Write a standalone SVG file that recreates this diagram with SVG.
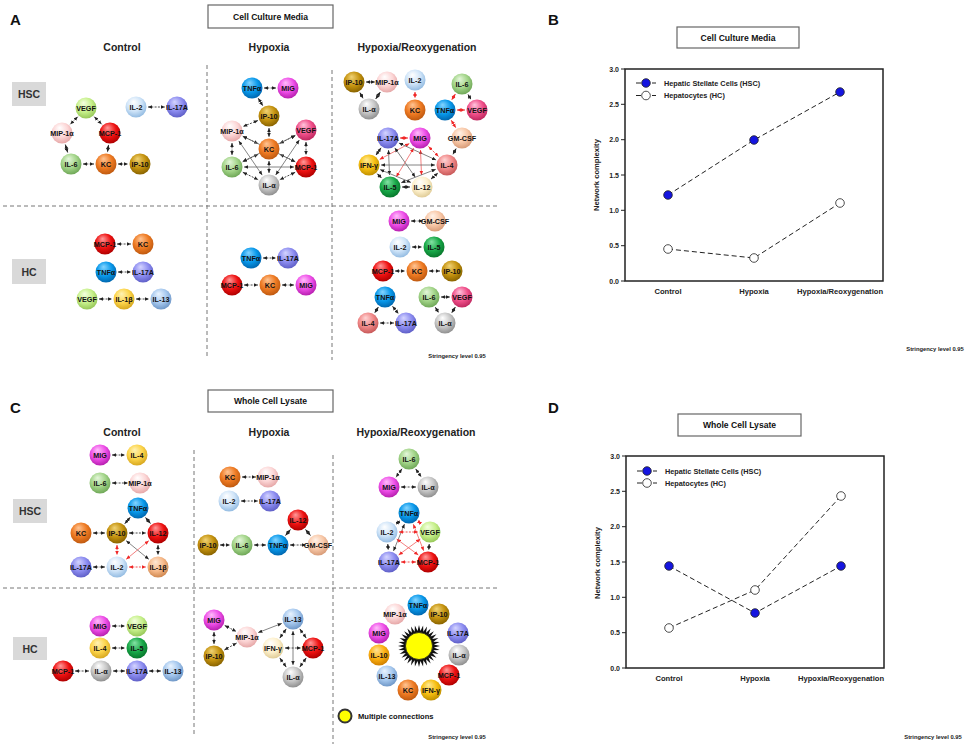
<svg xmlns="http://www.w3.org/2000/svg" width="970" height="748" viewBox="0 0 970 748">
<defs>
<marker id="ak" viewBox="0 0 6 6" refX="6" refY="3" markerWidth="4.2" markerHeight="4.2" markerUnits="userSpaceOnUse" orient="auto-start-reverse"><path d="M0,0.4 L6,3 L0,5.6 z" fill="#222"/></marker>
<marker id="ar" viewBox="0 0 6 6" refX="6" refY="3" markerWidth="4.2" markerHeight="4.2" markerUnits="userSpaceOnUse" orient="auto-start-reverse"><path d="M0,0.4 L6,3 L0,5.6 z" fill="#f02828"/></marker>
<radialGradient id="g-vegf" cx="0.45" cy="0.4" r="0.6" fx="0.38" fy="0.25"><stop offset="0" stop-color="#f4ffe0"/><stop offset="0.6" stop-color="#c6f08a"/><stop offset="1" stop-color="#98c85a"/></radialGradient>
<radialGradient id="g-vegfp" cx="0.45" cy="0.4" r="0.6" fx="0.38" fy="0.25"><stop offset="0" stop-color="#ffc4dc"/><stop offset="0.6" stop-color="#f0508a"/><stop offset="1" stop-color="#c02860"/></radialGradient>
<radialGradient id="g-mip" cx="0.45" cy="0.4" r="0.6" fx="0.38" fy="0.25"><stop offset="0" stop-color="#ffffff"/><stop offset="0.6" stop-color="#fcd6d6"/><stop offset="1" stop-color="#e6a8a8"/></radialGradient>
<radialGradient id="g-mcp" cx="0.45" cy="0.4" r="0.6" fx="0.38" fy="0.25"><stop offset="0" stop-color="#ff9a9a"/><stop offset="0.6" stop-color="#ee1111"/><stop offset="1" stop-color="#b00000"/></radialGradient>
<radialGradient id="g-il6" cx="0.45" cy="0.4" r="0.6" fx="0.38" fy="0.25"><stop offset="0" stop-color="#e4f6da"/><stop offset="0.6" stop-color="#a2d488"/><stop offset="1" stop-color="#70a858"/></radialGradient>
<radialGradient id="g-kc" cx="0.45" cy="0.4" r="0.6" fx="0.38" fy="0.25"><stop offset="0" stop-color="#ffc494"/><stop offset="0.6" stop-color="#ee7a22"/><stop offset="1" stop-color="#c05a10"/></radialGradient>
<radialGradient id="g-ip10" cx="0.45" cy="0.4" r="0.6" fx="0.38" fy="0.25"><stop offset="0" stop-color="#f0d274"/><stop offset="0.6" stop-color="#c4920e"/><stop offset="1" stop-color="#8a6400"/></radialGradient>
<radialGradient id="g-il2" cx="0.45" cy="0.4" r="0.6" fx="0.38" fy="0.25"><stop offset="0" stop-color="#ffffff"/><stop offset="0.6" stop-color="#cfe4f8"/><stop offset="1" stop-color="#94bce2"/></radialGradient>
<radialGradient id="g-il17" cx="0.45" cy="0.4" r="0.6" fx="0.38" fy="0.25"><stop offset="0" stop-color="#d4d4ff"/><stop offset="0.6" stop-color="#8c8cf0"/><stop offset="1" stop-color="#6060c8"/></radialGradient>
<radialGradient id="g-tnf" cx="0.45" cy="0.4" r="0.6" fx="0.38" fy="0.25"><stop offset="0" stop-color="#84d4ff"/><stop offset="0.6" stop-color="#0898ea"/><stop offset="1" stop-color="#0068b0"/></radialGradient>
<radialGradient id="g-mig" cx="0.45" cy="0.4" r="0.6" fx="0.38" fy="0.25"><stop offset="0" stop-color="#ffbcfa"/><stop offset="0.6" stop-color="#ee4ee8"/><stop offset="1" stop-color="#b820b0"/></radialGradient>
<radialGradient id="g-ila" cx="0.45" cy="0.4" r="0.6" fx="0.38" fy="0.25"><stop offset="0" stop-color="#ffffff"/><stop offset="0.6" stop-color="#c6c6c6"/><stop offset="1" stop-color="#909090"/></radialGradient>
<radialGradient id="g-gm" cx="0.45" cy="0.4" r="0.6" fx="0.38" fy="0.25"><stop offset="0" stop-color="#fff2e8"/><stop offset="0.6" stop-color="#f8c8a8"/><stop offset="1" stop-color="#d89c78"/></radialGradient>
<radialGradient id="g-ifn" cx="0.45" cy="0.4" r="0.6" fx="0.38" fy="0.25"><stop offset="0" stop-color="#ffea94"/><stop offset="0.6" stop-color="#f6be10"/><stop offset="1" stop-color="#c09000"/></radialGradient>
<radialGradient id="g-il4p" cx="0.45" cy="0.4" r="0.6" fx="0.38" fy="0.25"><stop offset="0" stop-color="#ffd4d4"/><stop offset="0.6" stop-color="#f08888"/><stop offset="1" stop-color="#c85a5a"/></radialGradient>
<radialGradient id="g-il4y" cx="0.45" cy="0.4" r="0.6" fx="0.38" fy="0.25"><stop offset="0" stop-color="#fff2b4"/><stop offset="0.6" stop-color="#fcd44a"/><stop offset="1" stop-color="#d8a820"/></radialGradient>
<radialGradient id="g-il5" cx="0.45" cy="0.4" r="0.6" fx="0.38" fy="0.25"><stop offset="0" stop-color="#84e2a4"/><stop offset="0.6" stop-color="#18a848"/><stop offset="1" stop-color="#08782c"/></radialGradient>
<radialGradient id="g-il12c" cx="0.45" cy="0.4" r="0.6" fx="0.38" fy="0.25"><stop offset="0" stop-color="#ffffff"/><stop offset="0.6" stop-color="#fdf0cc"/><stop offset="1" stop-color="#e0cc98"/></radialGradient>
<radialGradient id="g-il1bp" cx="0.45" cy="0.4" r="0.6" fx="0.38" fy="0.25"><stop offset="0" stop-color="#ffe8d4"/><stop offset="0.6" stop-color="#f6b98a"/><stop offset="1" stop-color="#d08850"/></radialGradient>
<radialGradient id="g-il13" cx="0.45" cy="0.4" r="0.6" fx="0.38" fy="0.25"><stop offset="0" stop-color="#eaf4ff"/><stop offset="0.6" stop-color="#a6c8ee"/><stop offset="1" stop-color="#7098c8"/></radialGradient>
<radialGradient id="g-il10" cx="0.45" cy="0.4" r="0.6" fx="0.38" fy="0.25"><stop offset="0" stop-color="#ffe294"/><stop offset="0.6" stop-color="#fdb010"/><stop offset="1" stop-color="#d08000"/></radialGradient>
</defs>
<style>
text{font-family:"Liberation Sans",Arial,sans-serif;font-weight:bold}
.n text{font-size:7.2px;text-anchor:middle;fill:#111}
.vegf{fill:url(#g-vegf)}.vegfp{fill:url(#g-vegfp)}.mip{fill:url(#g-mip)}.mcp{fill:url(#g-mcp)}.il6{fill:url(#g-il6)}.kc{fill:url(#g-kc)}.ip10{fill:url(#g-ip10)}.il2{fill:url(#g-il2)}.il17{fill:url(#g-il17)}.tnf{fill:url(#g-tnf)}.mig{fill:url(#g-mig)}.ila{fill:url(#g-ila)}.gm{fill:url(#g-gm)}.ifn{fill:url(#g-ifn)}.il4p{fill:url(#g-il4p)}.il4y{fill:url(#g-il4y)}.il5{fill:url(#g-il5)}.il12c{fill:url(#g-il12c)}.il1bp{fill:url(#g-il1bp)}.il13{fill:url(#g-il13)}.il10{fill:url(#g-il10)}
.e{stroke:#333;stroke-width:0.9;stroke-dasharray:2 1.3;fill:none;marker-start:url(#ak);marker-end:url(#ak)}
.el{stroke:#666;stroke-width:0.8;fill:none;marker-start:url(#ak);marker-end:url(#ak)}
.r{stroke:#f03a3a;stroke-width:0.9;stroke-dasharray:2 1.3;fill:none;marker-start:url(#ar);marker-end:url(#ar)}
.rl{stroke:#f06060;stroke-width:0.8;fill:none;marker-start:url(#ar);marker-end:url(#ar)}
.sep{stroke:#777;stroke-width:1;stroke-dasharray:4 3;fill:none}
.plabel{font-size:15px;fill:#111}
.col{font-size:10.5px;text-anchor:middle;fill:#222}
.tbox{fill:#fff;stroke:#666;stroke-width:1.2}
.ttext{font-size:8.6px;text-anchor:middle;fill:#111}
.gbox{fill:#d9d9d9}
.gtext{font-size:10.5px;text-anchor:middle;fill:#333}
.str{font-size:5.8px;text-anchor:middle;fill:#222}
.frame{fill:none;stroke:#222;stroke-width:1.5}
.tick{stroke:#222;stroke-width:1}
.tl{font-size:7px;text-anchor:end;fill:#222}
.xl{font-size:7.6px;text-anchor:middle;fill:#222}
.lg{font-size:7.3px;fill:#222}
.data{fill:none;stroke:#222;stroke-width:1;stroke-dasharray:5 3}
.hsc{fill:#1515e0;stroke:#222;stroke-width:0.8}
.hc{fill:#fff;stroke:#222;stroke-width:0.8}
</style>
<rect width="970" height="748" fill="#fff"/>

<!-- ================= PANEL A ================= -->
<g id="panelA-frame">
<text class="plabel" x="10" y="25">A</text>
<rect class="tbox" x="208" y="5" width="125" height="23"/>
<text class="ttext" x="270.5" y="19.5">Cell Culture Media</text>
<text class="col" x="122" y="51">Control</text>
<text class="col" x="269" y="51">Hypoxia</text>
<text class="col" x="417" y="51">Hypoxia/Reoxygenation</text>
<rect class="gbox" x="12" y="82" width="34" height="24"/>
<text class="gtext" x="29" y="98">HSC</text>
<rect class="gbox" x="12" y="259" width="34" height="25"/>
<text class="gtext" x="29" y="275.5">HC</text>
<line class="sep" x1="207" y1="65" x2="207" y2="357"/>
<line class="sep" x1="332" y1="70" x2="332" y2="360"/>
<line class="sep" x1="3" y1="206" x2="498" y2="206"/>
<text class="str" x="457" y="358">Stringency level 0.95</text>
</g>

<g id="connectors">
<!-- A HSC Control -->
<line class="e" x1="77.7" y1="116.7" x2="70.3" y2="124.3"/>
<line class="e" x1="94.3" y1="116.7" x2="101.7" y2="124.3"/>
<line class="e" x1="65.3" y1="144.5" x2="67.7" y2="152.5"/>
<line class="e" x1="108.5" y1="144.9" x2="107.5" y2="152.1"/>
<line class="e" x1="83" y1="164" x2="94" y2="164"/>
<line class="e" x1="118" y1="164" x2="128" y2="164"/>
<line class="e" x1="148" y1="107" x2="165" y2="107"/>
<!-- A HSC Hypoxia -->
<line class="e" x1="264" y1="88" x2="276" y2="88"/>
<line class="e" x1="258.2" y1="98.2" x2="262.8" y2="105.8"/>
<line class="e" x1="257.9" y1="120.5" x2="243.1" y2="126.5"/>
<line class="e" x1="269" y1="128" x2="269" y2="137"/>
<line class="e" x1="242.8" y1="136.3" x2="258.2" y2="143.7"/>
<line class="e" x1="295.3" y1="135.5" x2="279.7" y2="143.5"/>
<line class="e" x1="232" y1="143" x2="232" y2="155"/>
<line class="e" x1="306" y1="142" x2="306" y2="155"/>
<line class="e" x1="258.2" y1="154.3" x2="242.8" y2="161.7"/>
<line class="e" x1="279.8" y1="154.3" x2="295.2" y2="161.7"/>
<line class="e" x1="269" y1="161" x2="269" y2="173"/>
<line class="el" x1="244" y1="167" x2="294" y2="167"/>
<line class="e" x1="242.8" y1="172.3" x2="258.2" y2="179.7"/>
<line class="e" x1="295.2" y1="172.3" x2="279.8" y2="179.7"/>
<line class="el" x1="238.8" y1="140.9" x2="262.2" y2="175.1"/>
<line class="el" x1="299.3" y1="140" x2="275.7" y2="175"/>
<line class="el" x1="242.8" y1="136.2" x2="295.2" y2="161.8"/>
<line class="el" x1="242.7" y1="161.6" x2="295.3" y2="135.4"/>
<!-- A HSC H/R -->
<line class="e" x1="366" y1="82" x2="375" y2="82"/>
<line class="e" x1="359.8" y1="92.5" x2="363.2" y2="98.5"/>
<line class="e" x1="380.3" y1="92" x2="375.7" y2="99"/>
<line class="r" x1="415" y1="92" x2="415" y2="98"/>
<line class="r" x1="455.4" y1="94" x2="451.6" y2="100"/>
<line class="e" x1="468" y1="94.4" x2="471" y2="99.6"/>
<line class="r" x1="457" y1="110" x2="465" y2="110"/>
<line class="r" x1="451.2" y1="120.2" x2="455.8" y2="127.8"/>
<line class="e" x1="456.2" y1="148.5" x2="452.8" y2="154.5"/>
<line class="r" x1="400" y1="138" x2="408" y2="138"/>
<line class="r" x1="428.5" y1="146.5" x2="438.5" y2="156.5"/>
<line class="rl" x1="409.4" y1="143.6" x2="379.6" y2="159.4"/>
<line class="rl" x1="413.7" y1="148.2" x2="396.3" y2="176.8"/>
<line class="rl" x1="420.5" y1="150" x2="421.5" y2="175"/>
<line class="e" x1="381.1" y1="147.8" x2="375.9" y2="155.2"/>
<line class="el" x1="388.5" y1="150" x2="389.5" y2="175"/>
<line class="el" x1="394.8" y1="147.9" x2="415.2" y2="177.1"/>
<line class="el" x1="398.9" y1="143" x2="436.1" y2="160"/>
<line class="el" x1="381" y1="165" x2="435" y2="165"/>
<line class="e" x1="377.3" y1="173.7" x2="381.7" y2="178.3"/>
<line class="el" x1="380.1" y1="169.6" x2="410.9" y2="182.4"/>
<line class="e" x1="402" y1="187" x2="410" y2="187"/>
<line class="el" x1="401.2" y1="182.7" x2="435.8" y2="169.3"/>
<line class="e" x1="431" y1="179.1" x2="438" y2="172.9"/>
<!-- A HC Control -->
<line class="e" x1="117" y1="244" x2="131" y2="244"/>
<line class="e" x1="118" y1="272" x2="131" y2="272"/>
<line class="e" x1="99" y1="299" x2="112" y2="299"/>
<line class="e" x1="136" y1="299" x2="149" y2="299"/>
<!-- A HC Hypoxia -->
<line class="e" x1="263" y1="258" x2="276" y2="258"/>
<line class="e" x1="244" y1="285" x2="258" y2="285"/>
<line class="e" x1="282" y1="285" x2="294" y2="285"/>
<!-- A HC H/R -->
<line class="e" x1="411" y1="221" x2="423" y2="221"/>
<line class="e" x1="412" y1="247" x2="422" y2="247"/>
<line class="e" x1="395" y1="271" x2="405" y2="271"/>
<line class="e" x1="429" y1="271" x2="440" y2="271"/>
<line class="e" x1="378.4" y1="307" x2="374.6" y2="313"/>
<line class="e" x1="392.5" y1="306.3" x2="398.5" y2="313.7"/>
<line class="e" x1="380" y1="323" x2="394" y2="323"/>
<line class="e" x1="441" y1="297" x2="450" y2="297"/>
<line class="e" x1="435.3" y1="307.2" x2="438.7" y2="312.8"/>
<line class="e" x1="455.4" y1="307" x2="451.6" y2="313"/>
<!-- C HSC Control -->
<line class="e" x1="112" y1="455" x2="125" y2="455"/>
<line class="e" x1="112" y1="483" x2="128" y2="483"/>
<line class="e" x1="130.3" y1="517.2" x2="124.7" y2="523.8"/>
<line class="e" x1="145.5" y1="517.4" x2="150.5" y2="523.6"/>
<line class="e" x1="93" y1="533" x2="105" y2="533"/>
<line class="e" x1="129" y1="533" x2="146" y2="533"/>
<line class="r" x1="117" y1="545" x2="117" y2="555"/>
<line class="el" x1="126.2" y1="540.7" x2="148.8" y2="559.3"/>
<line class="e" x1="158" y1="545" x2="158" y2="555"/>
<line class="rl" x1="148.8" y1="540.7" x2="126.2" y2="559.3"/>
<line class="e" x1="93" y1="567" x2="105" y2="567"/>
<line class="r" x1="129" y1="567" x2="146" y2="567"/>
<!-- C HSC Hypoxia -->
<line class="e" x1="242" y1="477" x2="256" y2="477"/>
<line class="e" x1="241" y1="501" x2="258" y2="501"/>
<line class="e" x1="220" y1="545" x2="230" y2="545"/>
<line class="e" x1="254" y1="545" x2="266" y2="545"/>
<line class="e" x1="290" y1="545" x2="306" y2="545"/>
<line class="e" x1="285.5" y1="535.6" x2="290.5" y2="529.4"/>
<line class="e" x1="305.5" y1="529.4" x2="310.5" y2="535.6"/>
<!-- C HSC H/R -->
<line class="e" x1="402" y1="468.8" x2="396" y2="477.2"/>
<line class="e" x1="415.7" y1="468.9" x2="421.3" y2="477.1"/>
<line class="e" x1="401" y1="487" x2="416" y2="487"/>
<line class="e" x1="399.9" y1="520.8" x2="396.1" y2="524.2"/>
<line class="r" x1="417.9" y1="521.1" x2="421.1" y2="523.9"/>
<line class="e" x1="387.8" y1="544" x2="388.2" y2="550"/>
<line class="e" x1="429.2" y1="544" x2="428.8" y2="550"/>
<line class="r" x1="401" y1="562" x2="416" y2="562"/>
<line class="el" x1="404.5" y1="524.1" x2="393.5" y2="550.9"/>
<line class="rl" x1="413.3" y1="524.2" x2="423.7" y2="550.8"/>
<line class="r" x1="399" y1="532" x2="418" y2="532"/>
<line class="rl" x1="396.7" y1="539.1" x2="418.3" y2="554.9"/>
<line class="rl" x1="420.3" y1="539.1" x2="398.7" y2="554.9"/>
<!-- C HC Control -->
<line class="e" x1="112" y1="626" x2="125" y2="626"/>
<line class="e" x1="112" y1="648" x2="125" y2="648"/>
<line class="e" x1="75" y1="671" x2="89" y2="671"/>
<line class="e" x1="113" y1="671" x2="125" y2="671"/>
<line class="e" x1="149" y1="671" x2="161" y2="671"/>
<!-- C HC Hypoxia -->
<line class="e" x1="214" y1="632" x2="214" y2="644"/>
<line class="e" x1="224.7" y1="625.5" x2="236.3" y2="631.5"/>
<line class="e" x1="224.4" y1="650" x2="236.6" y2="643"/>
<line class="el" x1="258.2" y1="632.6" x2="281.8" y2="623.4"/>
<line class="e" x1="286.2" y1="628.9" x2="279.8" y2="638.1"/>
<line class="e" x1="299.8" y1="628.9" x2="306.2" y2="638.1"/>
<line class="el" x1="293" y1="631" x2="293" y2="665"/>
<line class="e" x1="285" y1="648" x2="301" y2="648"/>
<line class="e" x1="279.8" y1="657.9" x2="286.2" y2="667.1"/>
<line class="e" x1="306.2" y1="657.9" x2="299.8" y2="667.1"/>
</g>

<!-- A HSC Control nodes -->
<g id="a-hsc-c-vegf" class="n"><circle class="vegf" cx="86" cy="108" r="10.5"/><text x="86" y="110.5">VEGF</text></g>
<g id="a-hsc-c-mip" class="n"><circle class="mip" cx="62" cy="133" r="10.5"/><text x="62" y="135.5">MIP-1α</text></g>
<g id="a-hsc-c-mcp" class="n"><circle class="mcp" cx="110" cy="133" r="10.5"/><text x="110" y="135.5">MCP-1</text></g>
<g id="a-hsc-c-il6" class="n"><circle class="il6" cx="71" cy="164" r="10.5"/><text x="71" y="166.5">IL-6</text></g>
<g id="a-hsc-c-kc" class="n"><circle class="kc" cx="106" cy="164" r="10.5"/><text x="106" y="166.5">KC</text></g>
<g id="a-hsc-c-ip10" class="n"><circle class="ip10" cx="140" cy="164" r="10.5"/><text x="140" y="166.5">IP-10</text></g>
<g id="a-hsc-c-il2" class="n"><circle class="il2" cx="136" cy="107" r="10.5"/><text x="136" y="109.5">IL-2</text></g>
<g id="a-hsc-c-il17a" class="n"><circle class="il17" cx="177" cy="107" r="10.5"/><text x="177" y="109.5">IL-17A</text></g>

<!-- A HSC Hypoxia nodes -->
<g id="a-hsc-h-tnf" class="n"><circle class="tnf" cx="252" cy="88" r="10.5"/><text x="252" y="90.5">TNFα</text></g>
<g id="a-hsc-h-mig" class="n"><circle class="mig" cx="288" cy="88" r="10.5"/><text x="288" y="90.5">MIG</text></g>
<g id="a-hsc-h-ip10" class="n"><circle class="ip10" cx="269" cy="116" r="10.5"/><text x="269" y="118.5">IP-10</text></g>
<g id="a-hsc-h-mip" class="n"><circle class="mip" cx="232" cy="131" r="10.5"/><text x="232" y="133.5">MIP-1α</text></g>
<g id="a-hsc-h-vegf" class="n"><circle class="vegfp" cx="306" cy="130" r="10.5"/><text x="306" y="132.5">VEGF</text></g>
<g id="a-hsc-h-kc" class="n"><circle class="kc" cx="269" cy="149" r="10.5"/><text x="269" y="151.5">KC</text></g>
<g id="a-hsc-h-il6" class="n"><circle class="il6" cx="232" cy="167" r="10.5"/><text x="232" y="169.5">IL-6</text></g>
<g id="a-hsc-h-mcp" class="n"><circle class="mcp" cx="306" cy="167" r="10.5"/><text x="306" y="169.5">MCP-1</text></g>
<g id="a-hsc-h-ila" class="n"><circle class="ila" cx="269" cy="185" r="10.5"/><text x="269" y="187.5">IL-α</text></g>

<!-- A HSC H/R nodes -->
<g id="a-hsc-r-ip10" class="n"><circle class="ip10" cx="354" cy="82" r="10.5"/><text x="354" y="84.5">IP-10</text></g>
<g id="a-hsc-r-mip" class="n"><circle class="mip" cx="387" cy="82" r="10.5"/><text x="387" y="84.5">MIP-1α</text></g>
<g id="a-hsc-r-ila" class="n"><circle class="ila" cx="369" cy="109" r="10.5"/><text x="369" y="111.5">IL-α</text></g>
<g id="a-hsc-r-il2" class="n"><circle class="il2" cx="415" cy="80" r="10.5"/><text x="415" y="82.5">IL-2</text></g>
<g id="a-hsc-r-kc" class="n"><circle class="kc" cx="415" cy="110" r="10.5"/><text x="415" y="112.5">KC</text></g>
<g id="a-hsc-r-il6" class="n"><circle class="il6" cx="462" cy="84" r="10.5"/><text x="462" y="86.5">IL-6</text></g>
<g id="a-hsc-r-tnf" class="n"><circle class="tnf" cx="445" cy="110" r="10.5"/><text x="445" y="112.5">TNFα</text></g>
<g id="a-hsc-r-vegf" class="n"><circle class="vegfp" cx="477" cy="110" r="10.5"/><text x="477" y="112.5">VEGF</text></g>
<g id="a-hsc-r-gm" class="n"><circle class="gm" cx="462" cy="138" r="10.5"/><text x="462" y="140.5">GM-CSF</text></g>
<g id="a-hsc-r-il17a" class="n"><circle class="il17" cx="388" cy="138" r="10.5"/><text x="388" y="140.5">IL-17A</text></g>
<g id="a-hsc-r-mig" class="n"><circle class="mig" cx="420" cy="138" r="10.5"/><text x="420" y="140.5">MIG</text></g>
<g id="a-hsc-r-ifn" class="n"><circle class="ifn" cx="369" cy="165" r="10.5"/><text x="369" y="167.5">IFN-γ</text></g>
<g id="a-hsc-r-il4" class="n"><circle class="il4p" cx="447" cy="165" r="10.5"/><text x="447" y="167.5">IL-4</text></g>
<g id="a-hsc-r-il5" class="n"><circle class="il5" cx="390" cy="187" r="10.5"/><text x="390" y="189.5">IL-5</text></g>
<g id="a-hsc-r-il12" class="n"><circle class="il12c" cx="422" cy="187" r="10.5"/><text x="422" y="189.5">IL-12</text></g>

<!-- A HC Control nodes -->
<g id="a-hc-c-mcp" class="n"><circle class="mcp" cx="105" cy="244" r="10.5"/><text x="105" y="246.5">MCP-1</text></g>
<g id="a-hc-c-kc" class="n"><circle class="kc" cx="143" cy="244" r="10.5"/><text x="143" y="246.5">KC</text></g>
<g id="a-hc-c-tnf" class="n"><circle class="tnf" cx="106" cy="272" r="10.5"/><text x="106" y="274.5">TNFα</text></g>
<g id="a-hc-c-il17a" class="n"><circle class="il17" cx="143" cy="272" r="10.5"/><text x="143" y="274.5">IL-17A</text></g>
<g id="a-hc-c-vegf" class="n"><circle class="vegf" cx="87" cy="299" r="10.5"/><text x="87" y="301.5">VEGF</text></g>
<g id="a-hc-c-il1b" class="n"><circle class="il4y" cx="124" cy="299" r="10.5"/><text x="124" y="301.5">IL-1β</text></g>
<g id="a-hc-c-il13" class="n"><circle class="il13" cx="161" cy="299" r="10.5"/><text x="161" y="301.5">IL-13</text></g>

<!-- A HC Hypoxia nodes -->
<g id="a-hc-h-tnf" class="n"><circle class="tnf" cx="251" cy="258" r="10.5"/><text x="251" y="260.5">TNFα</text></g>
<g id="a-hc-h-il17a" class="n"><circle class="il17" cx="288" cy="258" r="10.5"/><text x="288" y="260.5">IL-17A</text></g>
<g id="a-hc-h-mcp" class="n"><circle class="mcp" cx="232" cy="285" r="10.5"/><text x="232" y="287.5">MCP-1</text></g>
<g id="a-hc-h-kc" class="n"><circle class="kc" cx="270" cy="285" r="10.5"/><text x="270" y="287.5">KC</text></g>
<g id="a-hc-h-mig" class="n"><circle class="mig" cx="306" cy="285" r="10.5"/><text x="306" y="287.5">MIG</text></g>

<!-- A HC H/R nodes -->
<g id="a-hc-r-mig" class="n"><circle class="mig" cx="399" cy="221" r="10.5"/><text x="399" y="223.5">MIG</text></g>
<g id="a-hc-r-gm" class="n"><circle class="gm" cx="435" cy="221" r="10.5"/><text x="435" y="223.5">GM-CSF</text></g>
<g id="a-hc-r-il2" class="n"><circle class="il2" cx="400" cy="247" r="10.5"/><text x="400" y="249.5">IL-2</text></g>
<g id="a-hc-r-il5" class="n"><circle class="il5" cx="434" cy="247" r="10.5"/><text x="434" y="249.5">IL-5</text></g>
<g id="a-hc-r-mcp" class="n"><circle class="mcp" cx="383" cy="271" r="10.5"/><text x="383" y="273.5">MCP-1</text></g>
<g id="a-hc-r-kc" class="n"><circle class="kc" cx="417" cy="271" r="10.5"/><text x="417" y="273.5">KC</text></g>
<g id="a-hc-r-ip10" class="n"><circle class="ip10" cx="452" cy="271" r="10.5"/><text x="452" y="273.5">IP-10</text></g>
<g id="a-hc-r-tnf" class="n"><circle class="tnf" cx="385" cy="297" r="10.5"/><text x="385" y="299.5">TNFα</text></g>
<g id="a-hc-r-il4" class="n"><circle class="il4p" cx="368" cy="323" r="10.5"/><text x="368" y="325.5">IL-4</text></g>
<g id="a-hc-r-il17a" class="n"><circle class="il17" cx="406" cy="323" r="10.5"/><text x="406" y="325.5">IL-17A</text></g>
<g id="a-hc-r-il6" class="n"><circle class="il6" cx="429" cy="297" r="10.5"/><text x="429" y="299.5">IL-6</text></g>
<g id="a-hc-r-vegf" class="n"><circle class="vegfp" cx="462" cy="297" r="10.5"/><text x="462" y="299.5">VEGF</text></g>
<g id="a-hc-r-ila" class="n"><circle class="ila" cx="445" cy="323" r="10.5"/><text x="445" y="325.5">IL-α</text></g>

<!-- ================= PANEL B ================= -->
<g id="panelB">
<text class="plabel" x="548" y="25">B</text>
<rect class="tbox" x="677" y="27" width="122" height="21"/>
<text class="ttext" x="738" y="40.5">Cell Culture Media</text>
<rect class="frame" x="625" y="69" width="258" height="212"/>
<line class="tick" x1="621" y1="281" x2="625" y2="281"/><text class="tl" x="619" y="283.5">0.0</text>
<line class="tick" x1="621" y1="245.7" x2="625" y2="245.7"/><text class="tl" x="619" y="248.2">0.5</text>
<line class="tick" x1="621" y1="210.3" x2="625" y2="210.3"/><text class="tl" x="619" y="212.8">1.0</text>
<line class="tick" x1="621" y1="175" x2="625" y2="175"/><text class="tl" x="619" y="177.5">1.5</text>
<line class="tick" x1="621" y1="139.7" x2="625" y2="139.7"/><text class="tl" x="619" y="142.2">2.0</text>
<line class="tick" x1="621" y1="104.3" x2="625" y2="104.3"/><text class="tl" x="619" y="106.8">2.5</text>
<line class="tick" x1="621" y1="69" x2="625" y2="69"/><text class="tl" x="619" y="71.5">3.0</text>
<text class="xl" x="596" y="175" transform="rotate(-90 596 175)" dy="2.5">Network complexity</text>
<text class="xl" x="668" y="294">Control</text>
<text class="xl" x="754" y="294">Hypoxia</text>
<text class="xl" x="840" y="294">Hypoxia/Reoxygenation</text>
<polyline class="data" points="668,195 754,140 840,92"/>
<polyline class="data" points="668,249 754,258 840,203"/>
<circle class="hsc" cx="668" cy="195" r="4.3"/><circle class="hsc" cx="754" cy="140" r="4.3"/><circle class="hsc" cx="840" cy="92" r="4.3"/>
<circle class="hc" cx="668" cy="249" r="4.3"/><circle class="hc" cx="754" cy="258" r="4.3"/><circle class="hc" cx="840" cy="203" r="4.3"/>
<line class="data" x1="636" y1="83" x2="656" y2="83"/><circle class="hsc" cx="646" cy="83" r="4.3"/>
<text class="lg" x="664" y="85.5">Hepatic Stellate Cells (HSC)</text>
<line class="data" x1="636" y1="95.5" x2="656" y2="95.5"/><circle class="hc" cx="646" cy="95.5" r="4.3"/>
<text class="lg" x="664" y="98">Hepatocytes (HC)</text>
<text class="str" x="935" y="351">Stringency level 0.95</text>
</g>

<!-- ================= PANEL C ================= -->
<g id="panelC-frame">
<text class="plabel" x="10" y="413">C</text>
<rect class="tbox" x="208" y="390" width="125" height="22"/>
<text class="ttext" x="270.5" y="404">Whole Cell Lysate</text>
<text class="col" x="122" y="436">Control</text>
<text class="col" x="269" y="436">Hypoxia</text>
<text class="col" x="416" y="436">Hypoxia/Reoxygenation</text>
<rect class="gbox" x="13" y="499" width="34" height="24"/>
<text class="gtext" x="30" y="515">HSC</text>
<rect class="gbox" x="13" y="637" width="34" height="23"/>
<text class="gtext" x="30" y="652.5">HC</text>
<line class="sep" x1="194" y1="450" x2="194" y2="737"/>
<line class="sep" x1="333" y1="455" x2="333" y2="744"/>
<line class="sep" x1="3" y1="588" x2="497" y2="588"/>
<text class="str" x="457" y="739">Stringency level 0.95</text>
</g>

<!-- C HSC Control nodes -->
<g id="c-hsc-c-mig" class="n"><circle class="mig" cx="100" cy="455" r="10.5"/><text x="100" y="457.5">MIG</text></g>
<g id="c-hsc-c-il4" class="n"><circle class="il4y" cx="137" cy="455" r="10.5"/><text x="137" y="457.5">IL-4</text></g>
<g id="c-hsc-c-il6" class="n"><circle class="il6" cx="100" cy="483" r="10.5"/><text x="100" y="485.5">IL-6</text></g>
<g id="c-hsc-c-mip" class="n"><circle class="mip" cx="140" cy="483" r="10.5"/><text x="140" y="485.5">MIP-1α</text></g>
<g id="c-hsc-c-tnf" class="n"><circle class="tnf" cx="138" cy="508" r="10.5"/><text x="138" y="510.5">TNFα</text></g>
<g id="c-hsc-c-kc" class="n"><circle class="kc" cx="81" cy="533" r="10.5"/><text x="81" y="535.5">KC</text></g>
<g id="c-hsc-c-ip10" class="n"><circle class="ip10" cx="117" cy="533" r="10.5"/><text x="117" y="535.5">IP-10</text></g>
<g id="c-hsc-c-il12" class="n"><circle class="mcp" cx="158" cy="533" r="10.5"/><text x="158" y="535.5">IL-12</text></g>
<g id="c-hsc-c-il17a" class="n"><circle class="il17" cx="81" cy="567" r="10.5"/><text x="81" y="569.5">IL-17A</text></g>
<g id="c-hsc-c-il2" class="n"><circle class="il2" cx="117" cy="567" r="10.5"/><text x="117" y="569.5">IL-2</text></g>
<g id="c-hsc-c-il1b" class="n"><circle class="il1bp" cx="158" cy="567" r="10.5"/><text x="158" y="569.5">IL-1β</text></g>

<!-- C HSC Hypoxia nodes -->
<g id="c-hsc-h-kc" class="n"><circle class="kc" cx="230" cy="477" r="10.5"/><text x="230" y="479.5">KC</text></g>
<g id="c-hsc-h-mip" class="n"><circle class="mip" cx="268" cy="477" r="10.5"/><text x="268" y="479.5">MIP-1α</text></g>
<g id="c-hsc-h-il2" class="n"><circle class="il2" cx="229" cy="501" r="10.5"/><text x="229" y="503.5">IL-2</text></g>
<g id="c-hsc-h-il17a" class="n"><circle class="il17" cx="270" cy="501" r="10.5"/><text x="270" y="503.5">IL-17A</text></g>
<g id="c-hsc-h-il12" class="n"><circle class="mcp" cx="298" cy="520" r="10.5"/><text x="298" y="522.5">IL-12</text></g>
<g id="c-hsc-h-ip10" class="n"><circle class="ip10" cx="208" cy="545" r="10.5"/><text x="208" y="547.5">IP-10</text></g>
<g id="c-hsc-h-il6" class="n"><circle class="il6" cx="242" cy="545" r="10.5"/><text x="242" y="547.5">IL-6</text></g>
<g id="c-hsc-h-tnf" class="n"><circle class="tnf" cx="278" cy="545" r="10.5"/><text x="278" y="547.5">TNFα</text></g>
<g id="c-hsc-h-gm" class="n"><circle class="gm" cx="318" cy="545" r="10.5"/><text x="318" y="547.5">GM-CSF</text></g>

<!-- C HSC H/R nodes -->
<g id="c-hsc-r-il6" class="n"><circle class="il6" cx="409" cy="459" r="10.5"/><text x="409" y="461.5">IL-6</text></g>
<g id="c-hsc-r-mig" class="n"><circle class="mig" cx="389" cy="487" r="10.5"/><text x="389" y="489.5">MIG</text></g>
<g id="c-hsc-r-ila" class="n"><circle class="ila" cx="428" cy="487" r="10.5"/><text x="428" y="489.5">IL-α</text></g>
<g id="c-hsc-r-tnf" class="n"><circle class="tnf" cx="409" cy="513" r="10.5"/><text x="409" y="515.5">TNFα</text></g>
<g id="c-hsc-r-il2" class="n"><circle class="il2" cx="387" cy="532" r="10.5"/><text x="387" y="534.5">IL-2</text></g>
<g id="c-hsc-r-vegf" class="n"><circle class="vegf" cx="430" cy="532" r="10.5"/><text x="430" y="534.5">VEGF</text></g>
<g id="c-hsc-r-il17a" class="n"><circle class="il17" cx="389" cy="562" r="10.5"/><text x="389" y="564.5">IL-17A</text></g>
<g id="c-hsc-r-mcp" class="n"><circle class="mcp" cx="428" cy="562" r="10.5"/><text x="428" y="564.5">MCP-1</text></g>

<!-- C HC Control nodes -->
<g id="c-hc-c-mig" class="n"><circle class="mig" cx="100" cy="626" r="10.5"/><text x="100" y="628.5">MIG</text></g>
<g id="c-hc-c-vegf" class="n"><circle class="vegf" cx="137" cy="626" r="10.5"/><text x="137" y="628.5">VEGF</text></g>
<g id="c-hc-c-il4" class="n"><circle class="il4y" cx="100" cy="648" r="10.5"/><text x="100" y="650.5">IL-4</text></g>
<g id="c-hc-c-il5" class="n"><circle class="il5" cx="137" cy="648" r="10.5"/><text x="137" y="650.5">IL-5</text></g>
<g id="c-hc-c-mcp" class="n"><circle class="mcp" cx="63" cy="671" r="10.5"/><text x="63" y="673.5">MCP-1</text></g>
<g id="c-hc-c-ila" class="n"><circle class="ila" cx="101" cy="671" r="10.5"/><text x="101" y="673.5">IL-α</text></g>
<g id="c-hc-c-il17a" class="n"><circle class="il17" cx="137" cy="671" r="10.5"/><text x="137" y="673.5">IL-17A</text></g>
<g id="c-hc-c-il13" class="n"><circle class="il13" cx="173" cy="671" r="10.5"/><text x="173" y="673.5">IL-13</text></g>

<!-- C HC Hypoxia nodes -->
<g id="c-hc-h-mig" class="n"><circle class="mig" cx="214" cy="620" r="10.5"/><text x="214" y="622.5">MIG</text></g>
<g id="c-hc-h-ip10" class="n"><circle class="ip10" cx="214" cy="656" r="10.5"/><text x="214" y="658.5">IP-10</text></g>
<g id="c-hc-h-mip" class="n"><circle class="mip" cx="247" cy="637" r="10.5"/><text x="247" y="639.5">MIP-1α</text></g>
<g id="c-hc-h-il13" class="n"><circle class="il13" cx="293" cy="619" r="10.5"/><text x="293" y="621.5">IL-13</text></g>
<g id="c-hc-h-ifn" class="n"><circle class="il12c" cx="273" cy="648" r="10.5"/><text x="273" y="650.5">IFN-γ</text></g>
<g id="c-hc-h-mcp" class="n"><circle class="mcp" cx="313" cy="648" r="10.5"/><text x="313" y="650.5">MCP-1</text></g>
<g id="c-hc-h-ila" class="n"><circle class="ila" cx="293" cy="677" r="10.5"/><text x="293" y="679.5">IL-α</text></g>

<!-- C HC H/R nodes -->
<g id="c-hc-r-sun" transform="translate(419 646)">
<polygon fill="#111" points="21,0 14.93,1.47 20.6,4.1 14.35,4.35 19.4,8.04 13.23,7.07 17.46,11.67 11.6,9.52 14.85,14.85 9.52,11.6 11.67,17.46 7.07,13.23 8.04,19.4 4.35,14.35 4.1,20.6 1.47,14.93 0,21 -1.47,14.93 -4.1,20.6 -4.35,14.35 -8.04,19.4 -7.07,13.23 -11.67,17.46 -9.52,11.6 -14.85,14.85 -11.6,9.52 -17.46,11.67 -13.23,7.07 -19.4,8.04 -14.35,4.35 -20.6,4.1 -14.93,1.47 -21,0 -14.93,-1.47 -20.6,-4.1 -14.35,-4.35 -19.4,-8.04 -13.23,-7.07 -17.46,-11.67 -11.6,-9.52 -14.85,-14.85 -9.52,-11.6 -11.67,-17.46 -7.07,-13.23 -8.04,-19.4 -4.35,-14.35 -4.1,-20.6 -1.47,-14.93 0,-21 1.47,-14.93 4.1,-20.6 4.35,-14.35 8.04,-19.4 7.07,-13.23 11.67,-17.46 9.52,-11.6 14.85,-14.85 11.6,-9.52 17.46,-11.67 13.23,-7.07 19.4,-8.04 14.35,-4.35 20.6,-4.1 14.93,-1.47"/>
<circle cx="0" cy="0" r="13.5" fill="#ffff00" stroke="#222" stroke-width="0.8"/>
</g>
<g id="c-hc-r-tnf" class="n"><circle class="tnf" cx="418" cy="605" r="10.5"/><text x="418" y="607.5">TNFα</text></g>
<g id="c-hc-r-mip" class="n"><circle class="mip" cx="395" cy="614" r="10.5"/><text x="395" y="616.5">MIP-1α</text></g>
<g id="c-hc-r-ip10" class="n"><circle class="ip10" cx="439" cy="614" r="10.5"/><text x="439" y="616.5">IP-10</text></g>
<g id="c-hc-r-mig" class="n"><circle class="mig" cx="379" cy="633" r="10.5"/><text x="379" y="635.5">MIG</text></g>
<g id="c-hc-r-il17a" class="n"><circle class="il17" cx="458" cy="633" r="10.5"/><text x="458" y="635.5">IL-17A</text></g>
<g id="c-hc-r-il10" class="n"><circle class="il10" cx="379" cy="655" r="10.5"/><text x="379" y="657.5">IL-10</text></g>
<g id="c-hc-r-ila" class="n"><circle class="ila" cx="459" cy="655" r="10.5"/><text x="459" y="657.5">IL-α</text></g>
<g id="c-hc-r-il13" class="n"><circle class="il13" cx="387" cy="676" r="10.5"/><text x="387" y="678.5">IL-13</text></g>
<g id="c-hc-r-mcp" class="n"><circle class="mcp" cx="449" cy="675" r="10.5"/><text x="449" y="677.5">MCP-1</text></g>
<g id="c-hc-r-kc" class="n"><circle class="kc" cx="408" cy="690" r="10.5"/><text x="408" y="692.5">KC</text></g>
<g id="c-hc-r-ifn" class="n"><circle class="ifn" cx="431" cy="690" r="10.5"/><text x="431" y="692.5">IFN-γ</text></g>
<g id="c-legend">
<circle cx="345" cy="716" r="6.5" fill="#ffff00" stroke="#333" stroke-width="2"/>
<text x="358" y="718.8" font-size="7.6" fill="#111">Multiple connections</text>
</g>

<!-- ================= PANEL D ================= -->
<g id="panelD">
<text class="plabel" x="548" y="413">D</text>
<rect class="tbox" x="678" y="414" width="123" height="22"/>
<text class="ttext" x="739.5" y="428">Whole Cell Lysate</text>
<rect class="frame" x="626" y="456" width="258" height="212"/>
<line class="tick" x1="622" y1="668" x2="626" y2="668"/><text class="tl" x="620" y="670.5">0.0</text>
<line class="tick" x1="622" y1="632.7" x2="626" y2="632.7"/><text class="tl" x="620" y="635.2">0.5</text>
<line class="tick" x1="622" y1="597.3" x2="626" y2="597.3"/><text class="tl" x="620" y="599.8">1.0</text>
<line class="tick" x1="622" y1="562" x2="626" y2="562"/><text class="tl" x="620" y="564.5">1.5</text>
<line class="tick" x1="622" y1="526.7" x2="626" y2="526.7"/><text class="tl" x="620" y="529.2">2.0</text>
<line class="tick" x1="622" y1="491.3" x2="626" y2="491.3"/><text class="tl" x="620" y="493.8">2.5</text>
<line class="tick" x1="622" y1="456" x2="626" y2="456"/><text class="tl" x="620" y="458.5">3.0</text>
<text class="xl" x="597" y="563" transform="rotate(-90 597 563)" dy="2.5">Network complexity</text>
<text class="xl" x="669" y="681">Control</text>
<text class="xl" x="755" y="681">Hypoxia</text>
<text class="xl" x="841" y="681">Hypoxia/Reoxygenation</text>
<polyline class="data" points="669,566 755,613 841,566"/>
<polyline class="data" points="669,628 755,590 841,496"/>
<circle class="hsc" cx="669" cy="566" r="4.3"/><circle class="hsc" cx="755" cy="613" r="4.3"/><circle class="hsc" cx="841" cy="566" r="4.3"/>
<circle class="hc" cx="669" cy="628" r="4.3"/><circle class="hc" cx="755" cy="590" r="4.3"/><circle class="hc" cx="841" cy="496" r="4.3"/>
<line class="data" x1="637" y1="471" x2="657" y2="471"/><circle class="hsc" cx="647" cy="471" r="4.3"/>
<text class="lg" x="665" y="473.5">Hepatic Stellate Cells (HSC)</text>
<line class="data" x1="637" y1="483" x2="657" y2="483"/><circle class="hc" cx="647" cy="483" r="4.3"/>
<text class="lg" x="665" y="485.5">Hepatocytes (HC)</text>
<text class="str" x="933" y="739">Stringency level 0.95</text>
</g>
</svg>
